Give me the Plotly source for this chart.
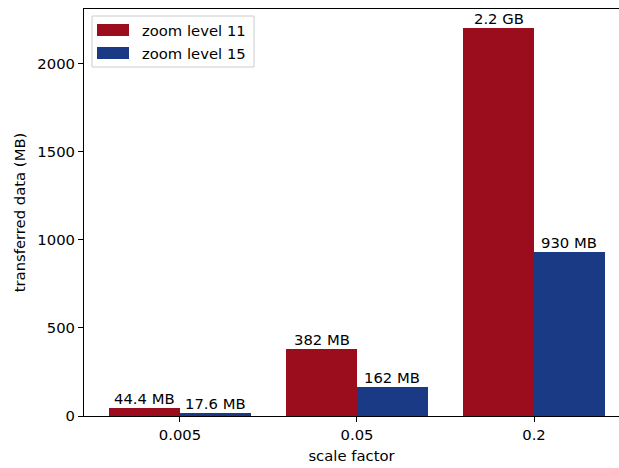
import plotly.graph_objects as go

# transferred data per scale factor, for two tile zoom levels
scale_factors = ["0.005", "0.05", "0.2"]
zoom11_mb = [44.4, 382, 2200]
zoom15_mb = [17.6, 162, 930]
zoom11_labels = ["44.4 MB", "382 MB", "2.2 GB"]
zoom15_labels = ["17.6 MB", "162 MB", "930 MB"]
series_names = ["zoom level 11", "zoom level 15"]

RED = "#9b0d1c"
BLUE = "#1b3a85"
FONT = "DejaVu Sans"
FS = 14.8

W, H = 619, 468
L, R, T, B = 84, 0, 9, 52
pw, ph = W - L - R, H - T - B

x_idx = list(range(len(scale_factors)))
bar_w = 0.4

fig = go.Figure()
annotations = []
for vals, labels, color, offs in [
    (zoom11_mb, zoom11_labels, RED, -bar_w),
    (zoom15_mb, zoom15_labels, BLUE, 0.0),
]:
    fig.add_trace(go.Bar(
        x=x_idx, y=vals, width=bar_w, offset=offs,
        marker=dict(color=color, line=dict(width=0)),
        showlegend=False, hoverinfo="x+y",
    ))
    # value label centred above each bar
    for xi, v, lab in zip(x_idx, vals, labels):
        annotations.append(dict(
            x=xi + offs + bar_w / 2, y=v, xref="x", yref="y",
            text=lab, showarrow=False, xanchor="center", yanchor="bottom",
            yshift=-1, font=dict(family=FONT, size=FS, color="black"),
        ))

# legend drawn in pixel units converted to paper coordinates
def px(x):
    return (x - L) / pw

def py(y):
    return (H - B - y) / ph

shapes = [
    dict(type="rect", xref="paper", yref="paper",
         x0=px(92), x1=px(254), y0=py(67), y1=py(16),
         line=dict(color="#cccccc", width=1), fillcolor="rgba(255,255,255,0.8)"),
]
for i, (name, color) in enumerate(zip(series_names, [RED, BLUE])):
    y0 = 24 + i * 23
    shapes.append(dict(type="rect", xref="paper", yref="paper",
                       x0=px(97), x1=px(129), y0=py(y0 + 12), y1=py(y0),
                       line=dict(width=0), fillcolor=color))
    annotations.append(dict(xref="paper", yref="paper", x=px(140), y=py(y0 + 6),
                            text=name, showarrow=False, xanchor="left", yanchor="middle",
                            font=dict(family=FONT, size=FS, color="black")))

fig.update_layout(
    width=W, height=H,
    margin=dict(l=L, r=R, t=T, b=B),
    plot_bgcolor="white", paper_bgcolor="white",
    font=dict(family=FONT, size=FS, color="black"),
    bargap=0,
    shapes=shapes, annotations=annotations,
    xaxis=dict(
        range=[-0.542, 2.48],
        tickvals=x_idx, ticktext=scale_factors,
        ticks="outside", ticklen=5, tickcolor="black",
        showline=True, linecolor="black", linewidth=1, mirror=True,
        showgrid=False, zeroline=False,
        title=dict(text="scale factor", standoff=8, font=dict(size=FS)),
        tickfont=dict(size=FS),
    ),
    yaxis=dict(
        range=[0, 2310],
        tickvals=[0, 500, 1000, 1500, 2000],
        ticks="outside", ticklen=5, tickcolor="black",
        showline=True, linecolor="black", linewidth=1,
        showgrid=False, zeroline=False,
        title=dict(text="transferred data (MB)", standoff=8, font=dict(size=FS)),
        tickfont=dict(size=FS),
    ),
)

fig.write_html("out.html")
